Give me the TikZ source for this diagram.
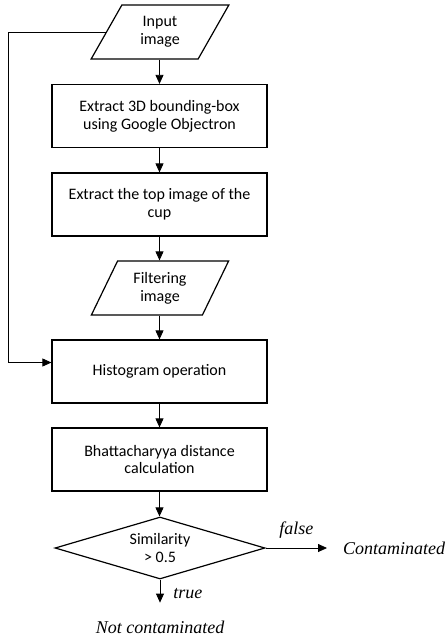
\documentclass[tikz,border=0pt]{standalone}
\usepackage{fontspec}
\setmainfont{Carlito}
\newfontfamily\tnr{Liberation Serif}
\usetikzlibrary{shapes.geometric,arrows.meta}
\begin{document}
\begin{tikzpicture}[x=1pt,y=1pt,
  txt/.style={align=center, font=\fontsize{16}{17.7}\selectfont, inner sep=0pt},
  box/.style={txt, draw, line width=1.2pt, rectangle, minimum width=215pt, minimum height=63pt},
  io/.style={txt, draw, line width=1.2pt, trapezium, trapezium left angle=62.6, trapezium right angle=117.4, trapezium stretches=true, minimum width=138pt, minimum height=54pt},
  dec/.style={txt, draw, line width=1.2pt, diamond, aspect=3.39, minimum width=210pt, minimum height=62pt},
  arr/.style={draw, line width=0.8pt, -{Triangle[length=9pt,width=8pt]}},
  lab/.style={font=\tnr\itshape\fontsize{18}{21}\selectfont}
]
\useasboundingbox (0,0) rectangle (445,-638);
\node[io] (in1) at (160,-32) {Input\\image};
\node[box] (b1) at (159.5,-116) {Extract 3D bounding-box\\using Google Objectron};
\node[box] (b2) at (159.5,-204.5) {Extract the top image of the\\cup};
\node[io] (in2) at (160,-288) {Filtering\\image};
\node[box] (b3) at (159.5,-371.5) {Histogram operation};
\node[box] (b4) at (159.5,-459.5) {Bhattacharyya distance\\calculation};
\node[dec] (d1) at (160,-548) {Similarity\\> 0.5};
\node[lab, anchor=west, inner xsep=16pt, inner ysep=0pt] (cont) at (327,-548) {Contaminated};
\node[lab, anchor=base, inner sep=0pt] (notc) at (160,-633) {Not contaminated};
\coordinate (lp) at (8,-33);

\draw[arr] (in1.south -| b1.north) -- (b1.north);
\draw[arr] (b1) -- (b2);
\draw[arr] (b2.south) -- (b2.south |- in2.north);
\draw[arr] (in2.south -| b3.north) -- (b3.north);
\draw[arr] (b3) -- (b4);
\draw[arr] (b4.south) -- (b4.south |- d1.north);
\draw[arr] (d1.east) -- node[lab, above=8pt, inner sep=1pt] {false} (cont.west);
\draw[arr, shorten >=17.7pt] (d1.south) -- node[lab, right=12pt, inner sep=1pt, pos=0.33] {true} (notc.north);
\draw[arr] (in1.west) -- (in1.west -| lp) |- ([yshift=9pt]b3.west);
\end{tikzpicture}
\end{document}
